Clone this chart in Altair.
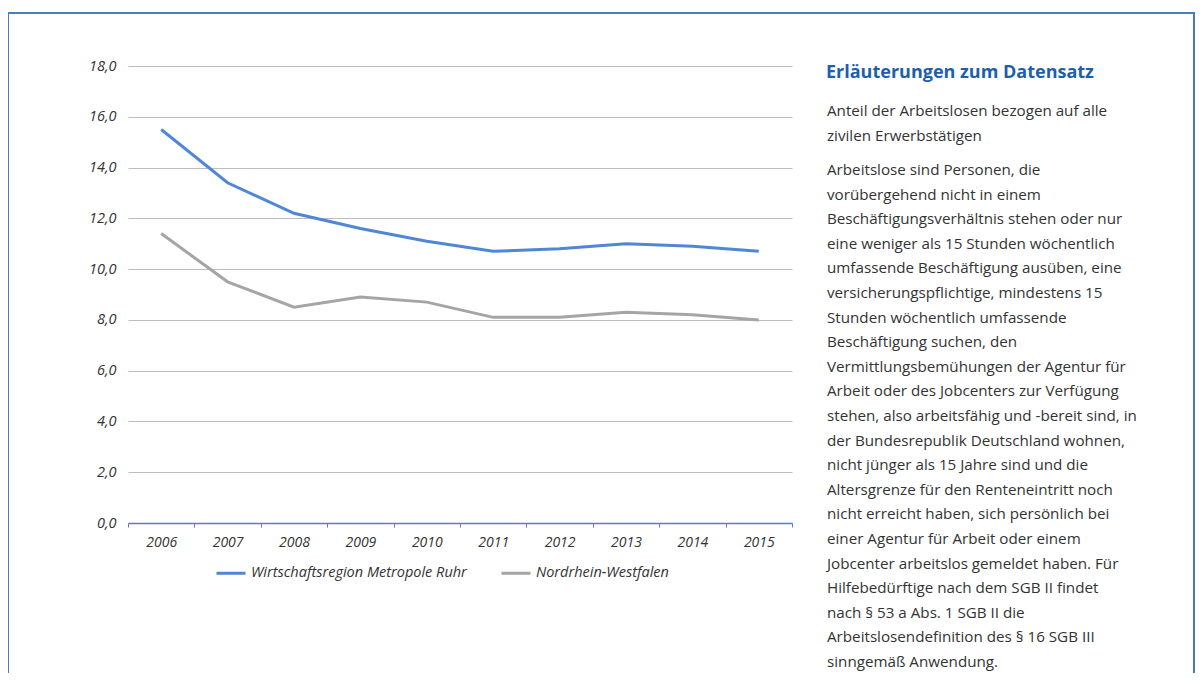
import altair as alt
import pandas as pd

# ---------------- data ----------------
years = ["2006", "2007", "2008", "2009", "2010", "2011", "2012", "2013", "2014", "2015"]
ruhr = [15.5, 13.4, 12.2, 11.6, 11.1, 10.7, 10.8, 11.0, 10.9, 10.7]
nrw = [11.4, 9.5, 8.5, 8.9, 8.7, 8.1, 8.1, 8.3, 8.2, 8.0]
series_names = ["Wirtschaftsregion Metropole Ruhr", "Nordrhein-Westfalen"]
series_colors = ["#4f87d6", "#a5a5a5"]
y_ticks = [0, 2, 4, 6, 8, 10, 12, 14, 16, 18]

info_title = "Erläuterungen zum Datensatz"
para1 = [
    "Anteil der Arbeitslosen bezogen auf alle",
    "zivilen Erwerbstätigen",
]
para2 = [
    "Arbeitslose sind Personen, die",
    "vorübergehend nicht in einem",
    "Beschäftigungsverhältnis stehen oder nur",
    "eine weniger als 15 Stunden wöchentlich",
    "umfassende Beschäftigung ausüben, eine",
    "versicherungspflichtige, mindestens 15",
    "Stunden wöchentlich umfassende",
    "Beschäftigung suchen, den",
    "Vermittlungsbemühungen der Agentur für",
    "Arbeit oder des Jobcenters zur Verfügung",
    "stehen, also arbeitsfähig und -bereit sind, in",
    "der Bundesrepublik Deutschland wohnen,",
    "nicht jünger als 15 Jahre sind und die",
    "Altersgrenze für den Renteneintritt noch",
    "nicht erreicht haben, sich persönlich bei",
    "einer Agentur für Arbeit oder einem",
    "Jobcenter arbeitslos gemeldet haben. Für",
    "Hilfebedürftige nach dem SGB II findet",
    "nach § 53 a Abs. 1 SGB II die",
    "Arbeitslosendefinition des § 16 SGB III",
    "sinngemäß Anwendung.",
]

df = pd.DataFrame({
    "year": years + years,
    "value": ruhr + nrw,
    "series": [series_names[0]] * len(years) + [series_names[1]] * len(years),
})
one = pd.DataFrame({"k": [0]})

FONT = "Open Sans"
TXT = "#333333"
BLUE_AX = "#4f81c7"

lines = alt.Chart(df).mark_line(strokeWidth=3).encode(
    x=alt.X(
        "year:O",
        bandPosition=0.5,
        scale=alt.Scale(type="band", paddingInner=0, paddingOuter=0),
        axis=alt.Axis(
            title=None, labelAngle=0, tickBand="extent", grid=False,
            domainColor=BLUE_AX, domainWidth=1.5, tickColor=BLUE_AX, tickSize=4,
            labelPadding=8, labelFont=FONT, labelFontSize=14,
            labelFontStyle="italic", labelColor=TXT,
        ),
    ),
    y=alt.Y(
        "value:Q",
        scale=alt.Scale(domain=[0, 18], nice=False),
        axis=alt.Axis(
            title=None, values=y_ticks, domain=False, ticks=False,
            grid=True, gridColor="#bdbdbd", gridWidth=1,
            labelExpr="replace(format(datum.value, '.1f'), '.', ',')",
            labelPadding=12, labelFont=FONT, labelFontSize=14.5,
            labelFontStyle="italic", labelColor=TXT,
        ),
    ),
    color=alt.Color(
        "series:N",
        scale=alt.Scale(domain=series_names, range=series_colors),
        legend=alt.Legend(
            title=None, orient="none", direction="horizontal",
            legendX=87, legendY=491, symbolType="stroke",
            symbolSize=841, symbolStrokeWidth=3, labelOffset=4,
            columnPadding=28, padding=0, labelLimit=500,
            labelFont=FONT, labelFontSize=14.5, labelFontStyle="italic",
            labelColor=TXT,
        ),
    ),
)

border = alt.Chart(one).mark_rect(
    fill=None, stroke="#4a7dbd", strokeWidth=2
).encode(
    x=alt.value(-120), x2=alt.value(1066),
    y=alt.value(-53), y2=alt.value(700),
)

title_mark = alt.Chart(one).mark_text(
    text=info_title, align="left", baseline="alphabetic",
    font=FONT, fontSize=18, fontWeight="bold", color="#1b5fae",
).encode(x=alt.value(698), y=alt.value(12))

p1 = alt.Chart(one).mark_text(
    text=para1, align="left", baseline="alphabetic", lineHeight=25,
    font=FONT, fontSize=15.2, color=TXT,
).encode(x=alt.value(699), y=alt.value(50))

p2 = alt.Chart(one).mark_text(
    text=para2, align="left", baseline="alphabetic", lineHeight=24.6,
    font=FONT, fontSize=15.2, color=TXT,
).encode(x=alt.value(699), y=alt.value(109))

chart = alt.layer(border, lines, title_mark, p1, p2).properties(
    width=664, height=457,
    autosize=alt.AutoSizeParams(type="none"),
    padding={"left": 120, "top": 58, "right": 403, "bottom": 150},
    background="white",
).configure_view(stroke=None)

chart.save("out.html", embed_options={"renderer": "svg", "actions": False})
